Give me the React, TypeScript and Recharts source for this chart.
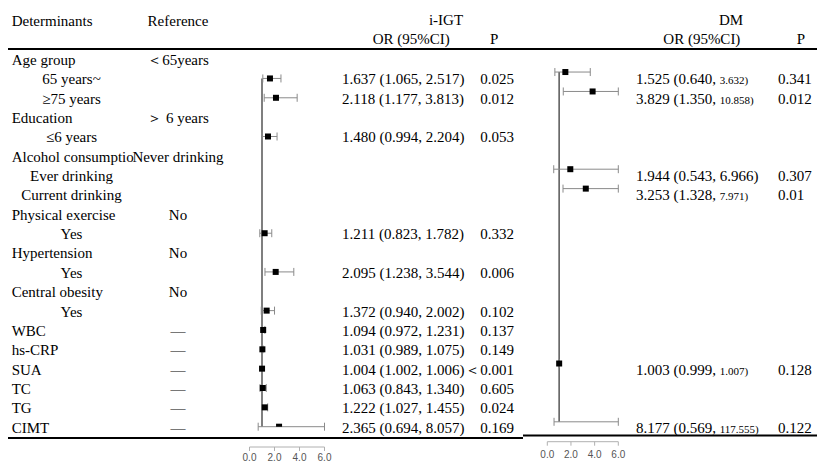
import { ComposedChart, ErrorBar, ReferenceLine, Scatter, XAxis, YAxis } from "recharts";

// table rows, top to bottom
const determinants = [
  "Age group", "65 years~", "≥75 years", "Education", "≤6 years",
  "Alcohol consumptio", "Ever drinking", "Current drinking", "Physical exercise", "Yes",
  "Hypertension", "Yes", "Central obesity", "Yes", "WBC",
  "hs-CRP", "SUA", "TC", "TG", "CIMT",
];
const references = [
  "＜65years", "", "", "＞ 6 years", "",
  "Never drinking", "", "", "No", "",
  "No", "", "No", "", "—",
  "—", "—", "—", "—", "—",
];

// i-IGT
const igtRows = [1, 2, 4, 9, 11, 13, 14, 15, 16, 17, 18, 19];
const igtOR = [1.637, 2.118, 1.48, 1.211, 2.095, 1.372, 1.094, 1.031, 1.004, 1.063, 1.222, 2.365];
const igtLow = [1.065, 1.177, 0.994, 0.823, 1.238, 0.94, 0.972, 0.989, 1.002, 0.843, 1.027, 0.694];
const igtHigh = [2.517, 3.813, 2.204, 1.782, 3.544, 2.002, 1.231, 1.075, 1.006, 1.34, 1.455, 8.057];
const igtP = ["0.025", "0.012", "0.053", "0.332", "0.006", "0.102", "0.137", "0.149", "＜0.001", "0.605", "0.024", "0.169"];

// DM
const dmRows = [1, 2, 6, 7, 16, 19];
const dmOR = [1.525, 3.829, 1.944, 3.253, 1.003, 8.177];
const dmLow = [0.64, 1.35, 0.543, 1.328, 0.999, 0.569];
const dmHigh = [3.632, 10.858, 6.966, 7.971, 1.007, 117.555];
const dmP = ["0.341", "0.012", "0.307", "0.01", "0.128", "0.122"];

const orTicks = [0, 2, 4, 6];

// upper CI printed in a smaller font in the source table
const dmHighSmall = [true, true, false, true, true, true];

const W = 817;
const H = 464;
const SERIF = '"Liberation Serif", "Times New Roman", Times, serif';
const SANS = '"Liberation Sans", Arial, sans-serif';
const allRows = determinants.map((_, i) => i);
const lastRow = allRows.length - 1;
const orMax = orTicks[orTicks.length - 1];
const fmt = (v: number) => v.toFixed(3);

// the plot axis stops at 6, so whiskers are cut there
const igtData = igtRows.map((row, k) => ({
  row,
  or: igtOR[k],
  err: [igtOR[k] - igtLow[k], Math.min(igtHigh[k], orMax) - igtOR[k]],
}));
const dmData = dmRows.map((row, k) => ({
  row,
  or: dmOR[k],
  err: [dmOR[k] - dmLow[k], Math.min(dmHigh[k], orMax) - dmOR[k]],
}));

const Square = (p: any) => <rect x={p.cx - 3} y={p.cy - 3} width={6} height={6} fill="#000" />;

function RowLabelTick({ y, payload }: any) {
  const i = payload.value as number;
  const base = y + 5.9;
  const sub = references[i] === "";
  return (
    <g fontFamily={SERIF} fontSize={15} fill="#000">
      <text x={sub ? 71.5 : 11.7} y={base} textAnchor={sub ? "middle" : "start"}>
        {determinants[i]}
      </text>
      {!sub && (
        <text x={178} y={base} textAnchor="middle">
          {references[i]}
        </text>
      )}
    </g>
  );
}

function StatsTick({ y, payload }: any) {
  const i = payload.value as number;
  const base = y + 5.9;
  const a = igtRows.indexOf(i);
  const b = dmRows.indexOf(i);
  return (
    <g fontFamily={SERIF} fontSize={15} fill="#000" style={{ whiteSpace: "pre" }}>
      {a >= 0 && (
        <>
          <text x={342} y={base}>{`${fmt(igtOR[a])} (${fmt(igtLow[a])}, ${fmt(igtHigh[a])})`}</text>
          <text x={514} y={base} textAnchor="end">{igtP[a]}</text>
        </>
      )}
      {b >= 0 && (
        <>
          <text x={636} y={base}>
            {`${fmt(dmOR[b])} (${fmt(dmLow[b])}, `}
            <tspan fontSize={dmHighSmall[b] ? 11 : 15}>{` ${fmt(dmHigh[b])})`}</tspan>
          </text>
          <text x={778} y={base}>{dmP[b]}</text>
        </>
      )}
    </g>
  );
}

const axisTick = { fill: "#555", fontSize: 10, fontFamily: SANS };

export default function App() {
  return (
    <div style={{ position: "absolute", left: 0, top: 0, width: W, height: H, overflow: "hidden", background: "#fff" }}>
      <svg width={W} height={H} style={{ position: "absolute", left: 0, top: 0 }} fontFamily={SERIF} fontSize={15} fill="#000">
        <text x={11.7} y={26}>Determinants</text>
        <text x={178} y={26} textAnchor="middle">Reference</text>
        <text x={446} y={25} textAnchor="middle">i-IGT</text>
        <text x={372.7} y={43.5}>OR (95%CI)</text>
        <text x={490} y={43.5}>P</text>
        <text x={731} y={25} textAnchor="middle">DM</text>
        <text x={663.3} y={43.5}>OR (95%CI)</text>
        <text x={796.7} y={43.5}>P</text>
        <rect x={8} y={48} width={W - 8} height={2} fill="#000" />
        <rect x={8} y={437} width={515} height={2} fill="#000" />
        <rect x={523} y={434.5} width={W - 523} height={2} fill="#000" />
      </svg>

      <div style={{ position: "absolute", left: 0, top: 0 }}>
        <ComposedChart width={W} height={H} margin={{ top: 59.1, right: 0, bottom: 0, left: 0 }}>
          <XAxis
            type="number"
            dataKey="or"
            domain={[0, orMax]}
            allowDataOverflow
            ticks={orTicks}
            interval={0}
            height={17}
            tickSize={4}
            tickMargin={3}
            tickFormatter={(v) => Number(v).toFixed(1)}
            stroke="#b0b0b0"
            tick={axisTick}
          />
          <YAxis
            yAxisId="rows"
            type="number"
            dataKey="row"
            domain={[0, lastRow]}
            allowDataOverflow
            reversed
            ticks={allRows}
            interval={0}
            width={249.5}
            axisLine={false}
            tickLine={false}
            padding={{ top: 0, bottom: 20.3 }}
            tick={RowLabelTick}
          />
          <YAxis
            yAxisId="stats"
            orientation="right"
            type="number"
            dataKey="row"
            domain={[0, lastRow]}
            allowDataOverflow
            reversed
            ticks={allRows}
            interval={0}
            width={492.5}
            axisLine={false}
            tickLine={false}
            padding={{ top: 0, bottom: 20.3 }}
            tick={StatsTick}
          />
          <ReferenceLine
            yAxisId="rows"
            segment={[
              { x: 1, y: igtRows[0] },
              { x: 1, y: igtRows[igtRows.length - 1] },
            ]}
            stroke="#555"
            strokeWidth={1.5}
          />
          <Scatter yAxisId="rows" data={igtData} shape={Square} isAnimationActive={false}>
            <ErrorBar dataKey="err" direction="x" width={4} stroke="#8a8a8a" strokeWidth={1} isAnimationActive={false} />
          </Scatter>
        </ComposedChart>
      </div>

      <div style={{ position: "absolute", left: 0, top: 0 }}>
        <ComposedChart width={W} height={H} margin={{ top: 52.6, right: 198.7, bottom: 0, left: 547.3 }}>
          <XAxis
            type="number"
            dataKey="or"
            domain={[0, orMax]}
            allowDataOverflow
            ticks={orTicks}
            interval={0}
            height={22.3}
            tickSize={4}
            tickMargin={5}
            tickFormatter={(v) => Number(v).toFixed(1)}
            stroke="#b0b0b0"
            tick={axisTick}
          />
          <YAxis
            type="number"
            dataKey="row"
            domain={[0, lastRow]}
            allowDataOverflow
            reversed
            hide
            padding={{ top: 0, bottom: 19.9 }}
          />
          <ReferenceLine
            segment={[
              { x: 1, y: dmRows[0] },
              { x: 1, y: dmRows[dmRows.length - 1] },
            ]}
            stroke="#555"
            strokeWidth={1.5}
          />
          <Scatter data={dmData} shape={Square} isAnimationActive={false}>
            <ErrorBar dataKey="err" direction="x" width={4} stroke="#8a8a8a" strokeWidth={1} isAnimationActive={false} />
          </Scatter>
        </ComposedChart>
      </div>
    </div>
  );
}
